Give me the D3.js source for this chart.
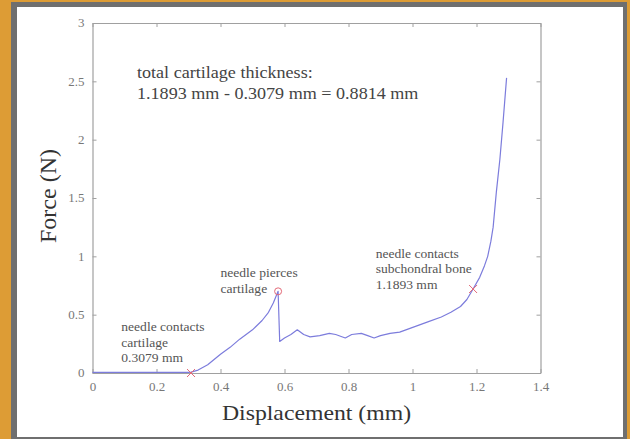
<!DOCTYPE html>
<html>
<head>
<meta charset="utf-8">
<script src="https://cdn.jsdelivr.net/npm/d3@7/dist/d3.min.js"></script>
<style>
  html, body { margin: 0; padding: 0; background: #fff; }
  svg { display: block; }
  text { font-family: "Liberation Serif", "Times New Roman", serif; }
</style>
</head>
<body>
<svg id="chart" width="630" height="439"></svg>
<script>
// Needle indentation test: force vs. displacement
const displacement = [0, 0.1, 0.2, 0.3, 0.3079, 0.33, 0.36, 0.4, 0.43, 0.46, 0.5, 0.53, 0.55, 0.565, 0.58,
  0.585, 0.6, 0.62, 0.64, 0.66, 0.68, 0.71, 0.74, 0.76, 0.79, 0.81, 0.84, 0.86, 0.88, 0.9, 0.93, 0.96,
  0.99, 1.02, 1.05, 1.09, 1.12, 1.15, 1.17, 1.1893, 1.21, 1.225, 1.235, 1.245, 1.252, 1.262, 1.273, 1.283, 1.294];
const force = [0.005, 0.005, 0.006, 0.006, 0.008, 0.025, 0.07, 0.16, 0.22, 0.29, 0.37, 0.45, 0.52, 0.6, 0.70,
  0.27, 0.30, 0.33, 0.37, 0.33, 0.31, 0.32, 0.34, 0.33, 0.30, 0.33, 0.34, 0.32, 0.30, 0.32, 0.34, 0.35,
  0.38, 0.41, 0.44, 0.48, 0.52, 0.57, 0.63, 0.72, 0.82, 0.92, 1.0, 1.13, 1.25, 1.55, 1.83, 2.15, 2.53];

const xTicks = [0, 0.2, 0.4, 0.6, 0.8, 1, 1.2, 1.4];
const yTicks = [0, 0.5, 1, 1.5, 2, 2.5, 3];

// Event markers: cartilage contact, cartilage pierced, bone contact
const crossPoints = [{ x: 0.3079, y: 0 }, { x: 1.1893, y: 0.72 }];
const circlePoints = [{ x: 0.58, y: 0.70 }];

const notes = [
  { x: 0.09, y: 0.36, lines: ["needle contacts", "cartilage", "0.3079 mm"] },
  { x: 0.4, y: 0.82, lines: ["needle pierces", "cartilage"] },
  { x: 0.885, y: 0.99, lines: ["needle contacts", "subchondral bone", "1.1893 mm"] }
];
const summary = ["total cartilage thickness:", "1.1893 mm - 0.3079 mm = 0.8814 mm"];

const svg = d3.select("#chart");
const W = 630, H = 439;
const stretch = 1.13;

// Frame
svg.append("rect").attr("width", W).attr("height", H).attr("fill", "#dd9c35");
svg.append("rect").attr("x", 11).attr("y", 2).attr("width", 616).attr("height", 437).attr("fill", "#6f6f6f");
svg.append("rect").attr("x", 17).attr("y", 7).attr("width", 606).attr("height", 430).attr("fill", "#ffffff");

const plot = { left: 92.5, right: 540.5, top: 23, bottom: 373 };
const x = d3.scaleLinear().domain([0, 1.4]).range([plot.left, plot.right]);
const y = d3.scaleLinear().domain([0, 3]).range([plot.bottom, plot.top]);

const axisColor = "#a0a0a0";
const tickLen = 4;

// Axes (box with inward ticks on all sides)
const gB = svg.append("g").attr("transform", `translate(0,${plot.bottom})`)
  .call(d3.axisBottom(x).tickValues(xTicks).tickSizeInner(-tickLen).tickSizeOuter(0).tickPadding(10).tickFormat(d3.format("")));
const gT = svg.append("g").attr("transform", `translate(0,${plot.top})`)
  .call(d3.axisTop(x).tickValues(xTicks).tickSizeInner(-tickLen).tickSizeOuter(0).tickFormat(""));
const gL = svg.append("g").attr("transform", `translate(${plot.left},0)`)
  .call(d3.axisLeft(y).tickValues(yTicks).tickSizeInner(-tickLen).tickSizeOuter(0).tickPadding(8).tickFormat(d3.format("")));
const gR = svg.append("g").attr("transform", `translate(${plot.right},0)`)
  .call(d3.axisRight(y).tickValues(yTicks).tickSizeInner(-tickLen).tickSizeOuter(0).tickFormat(""));

[gB, gT, gL, gR].forEach(g => {
  g.select(".domain").attr("stroke", axisColor).attr("stroke-width", 1.2);
  g.selectAll(".tick line").attr("stroke", axisColor);
  g.selectAll(".tick text").attr("fill", "#777").attr("font-size", 11.5)
    .attr("font-family", "Liberation Serif, serif");
});

// Force curve
const line = d3.line().x((d, i) => x(displacement[i])).y(d => y(d));
svg.append("path").datum(force)
  .attr("d", line)
  .attr("fill", "none")
  .attr("stroke", "#7c7cdc")
  .attr("stroke-width", 1.2)
  .attr("stroke-linejoin", "round");

// Markers
const markColor = "#e36a78";
const cs = 4;
svg.selectAll(".cross").data(crossPoints).join("path")
  .attr("class", "cross")
  .attr("d", d => `M${x(d.x) - cs},${y(d.y) - cs}L${x(d.x) + cs},${y(d.y) + cs}M${x(d.x) - cs},${y(d.y) + cs}L${x(d.x) + cs},${y(d.y) - cs}`)
  .attr("stroke", markColor).attr("stroke-width", 1).attr("fill", "none");
svg.selectAll(".ring").data(circlePoints).join("circle")
  .attr("class", "ring")
  .attr("cx", d => x(d.x)).attr("cy", d => y(d.y)).attr("r", 3.5)
  .attr("stroke", markColor).attr("stroke-width", 1).attr("fill", "none");

// Widen text horizontally to the chart's aspect
function widen(sel) {
  sel.each(function () {
    const len = this.getComputedTextLength();
    d3.select(this).attr("textLength", len * stretch).attr("lengthAdjust", "spacingAndGlyphs");
  });
}

// Event notes
notes.forEach(n => {
  n.lines.forEach((t, i) => {
    svg.append("text")
      .attr("x", x(n.x)).attr("y", y(n.y) + i * 15.5)
      .attr("font-size", 12).attr("fill", "#555")
      .text(t).call(widen);
  });
});

// Thickness summary
summary.forEach((t, i) => {
  svg.append("text")
    .attr("x", 137).attr("y", 78 + i * 21)
    .attr("font-size", 16).attr("fill", "#444")
    .text(t).call(widen);
});

// Axis titles
svg.append("text")
  .attr("x", (plot.left + plot.right) / 2).attr("y", 420)
  .attr("text-anchor", "middle").attr("font-size", 21).attr("fill", "#333")
  .text("Displacement (mm)").call(widen);
svg.append("text")
  .attr("transform", `translate(56,196) rotate(-90)`)
  .attr("text-anchor", "middle").attr("font-size", 24).attr("fill", "#333")
  .text("Force (N)");

gB.selectAll(".tick text").call(widen);
gL.selectAll(".tick text").call(widen);
</script>
</body>
</html>
